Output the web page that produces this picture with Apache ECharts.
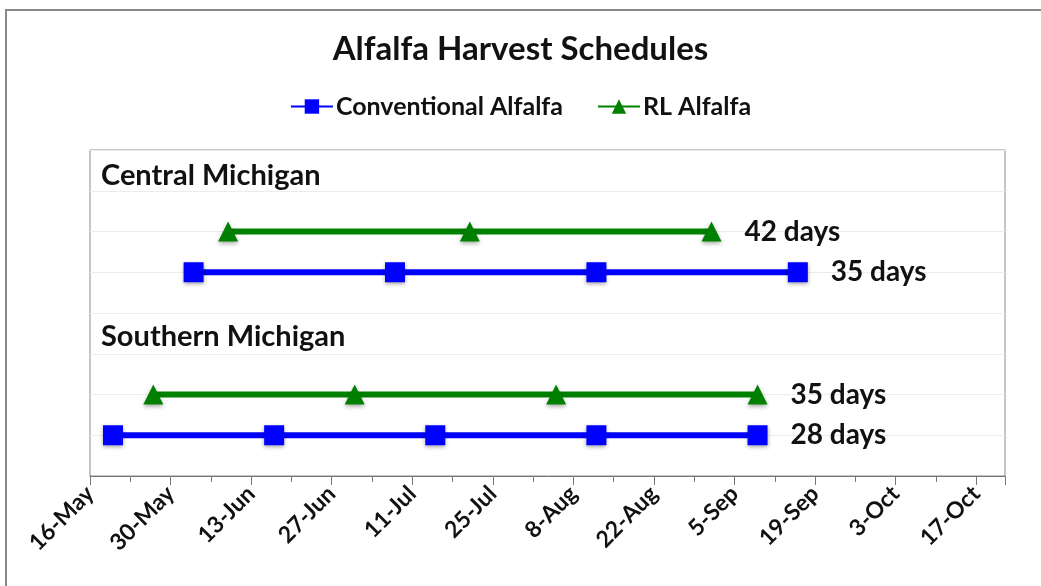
<!DOCTYPE html>
<html>
<head>
<meta charset="utf-8">
<title>Alfalfa Harvest Schedules</title>
<script src="https://cdn.jsdelivr.net/npm/echarts@6/dist/echarts.min.js"></script>
<style>
  html, body { margin: 0; padding: 0; background: #fff; }
  #chart { width: 1041px; height: 586px; }
</style>
</head>
<body>
<div id="chart"></div>
<script>
// x axis tick labels, one every 14 days from 16-May
const tickLabels = ['16-May', '30-May', '13-Jun', '27-Jun', '11-Jul', '25-Jul', '8-Aug', '22-Aug', '5-Sep', '19-Sep', '3-Oct', '17-Oct']

// harvest dates (MM-DD)
const centralRL = ['06-09', '07-21', '09-01']
const centralConventional = ['06-03', '07-08', '08-12', '09-16']
const southernRL = ['05-27', '07-01', '08-05', '09-09']
const southernConventional = ['05-20', '06-17', '07-15', '08-12', '09-09']

// row of each schedule on the (hidden) y axis
const rowCentralRL = 6
const rowCentralConventional = 5
const rowSouthernRL = 2
const rowSouthernConventional = 1

// interval text shown after the last cut
const daysCentralRL = '42 days'
const daysCentralConventional = '35 days'
const daysSouthernRL = '35 days'
const daysSouthernConventional = '28 days'

const regionNames = ['Central Michigan', 'Southern Michigan']

const FONT = 'Lato, "Open Sans", sans-serif'
const BLUE = '#0000ff'
const GREEN = '#008000'

// days after 16-May
const dayOffset = (md) => {
  const [m, d] = md.split('-').map(Number)
  return Math.round((Date.UTC(2021, m - 1, d) - Date.UTC(2021, 4, 16)) / 86400000)
}

const makeSeries = (name, dates, row, daysText, color, symbol) => ({
  name: name,
  type: 'line',
  data: dates.map(d => [dayOffset(d), row]),
  symbol: symbol,
  symbolSize: 20,
  lineStyle: { color: color, width: 6 },
  itemStyle: {
    color: color,
    shadowBlur: 4,
    shadowColor: 'rgba(0,0,0,0.35)',
    shadowOffsetY: 2
  },
  label: {
    show: true,
    position: 'right',
    distance: 23,
    color: '#111',
    fontFamily: FONT,
    fontWeight: 'bold',
    fontSize: 28,
    formatter: p => (p.dataIndex === dates.length - 1 ? daysText : '')
  },
  emphasis: { disabled: true },
  animation: false
})

const chart = echarts.init(document.getElementById('chart'))

const option = {
  backgroundColor: '#fff',
  title: [
    {
      text: 'Alfalfa Harvest Schedules',
      left: 'center',
      top: 28,
      textStyle: { fontFamily: FONT, fontWeight: 'bold', fontSize: 33, color: '#111' }
    },
    {
      text: regionNames[0],
      left: 96,
      top: 156,
      textStyle: { fontFamily: FONT, fontWeight: 'bold', fontSize: 29, color: '#111' }
    },
    {
      text: regionNames[1],
      left: 96,
      top: 317,
      textStyle: { fontFamily: FONT, fontWeight: 'bold', fontSize: 29, color: '#111' }
    }
  ],
  legend: {
    top: 89,
    left: 'center',
    itemWidth: 42,
    itemHeight: 18,
    itemGap: 34,
    data: ['Conventional Alfalfa', 'RL Alfalfa'],
    textStyle: { fontFamily: FONT, fontWeight: 'bold', fontSize: 25, color: '#111', padding: [0, 0, 0, -2] }
  },
  grid: {
    left: 90,
    right: 36,
    top: 150,
    bottom: 110,
    show: true,
    borderColor: '#8c8c8c',
    borderWidth: 1
  },
  xAxis: {
    type: 'value',
    min: 0,
    max: 159,
    interval: 14,
    axisLine: { lineStyle: { color: '#777', width: 1 } },
    axisTick: { length: 9, lineStyle: { color: '#777' } },
    minorTick: { show: true, splitNumber: 2, length: 6, lineStyle: { color: '#777' } },
    splitLine: { show: false },
    axisLabel: {
      rotate: 45,
      margin: 14,
      color: '#111',
      fontFamily: FONT,
      fontWeight: 'bold',
      fontSize: 23,
      formatter: v => (v % 14 === 0 ? (tickLabels[v / 14] || '') : '')
    }
  },
  yAxis: {
    type: 'value',
    min: 0,
    max: 8,
    interval: 1,
    axisLine: { show: false },
    axisTick: { show: false },
    axisLabel: { show: false },
    splitLine: { lineStyle: { color: '#ececec', width: 1 } }
  },
  graphic: [
    {
      type: 'rect',
      shape: { x: 6, y: 10, width: 1060, height: 600 },
      style: { fill: 'none', stroke: '#8a8a8a', lineWidth: 2 },
      silent: true
    }
  ],
  series: [
    makeSeries('Conventional Alfalfa', centralConventional, rowCentralConventional, daysCentralConventional, BLUE, 'rect'),
    makeSeries('RL Alfalfa', centralRL, rowCentralRL, daysCentralRL, GREEN, 'triangle'),
    makeSeries('RL Alfalfa', southernRL, rowSouthernRL, daysSouthernRL, GREEN, 'triangle'),
    makeSeries('Conventional Alfalfa', southernConventional, rowSouthernConventional, daysSouthernConventional, BLUE, 'rect')
  ]
}

chart.setOption(option)
window.addEventListener('resize', () => chart.resize())
</script>
</body>
</html>
